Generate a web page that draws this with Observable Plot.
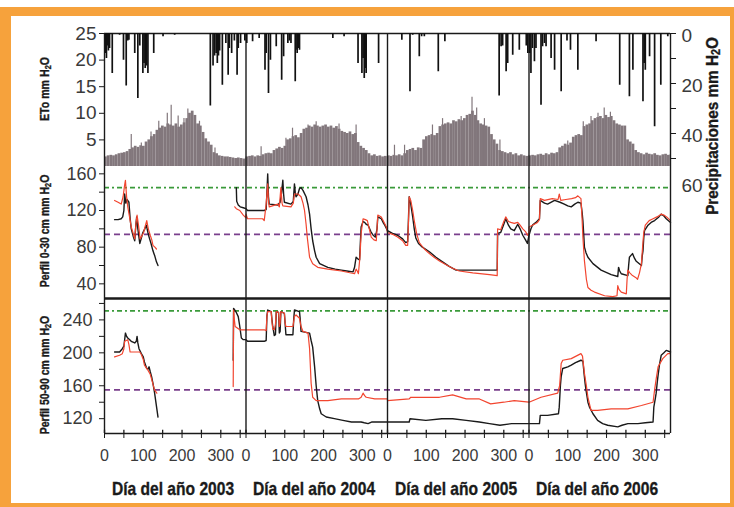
<!DOCTYPE html>
<html><head><meta charset="utf-8">
<script src="https://cdn.jsdelivr.net/npm/d3@7"></script>
<script src="https://cdn.jsdelivr.net/npm/@observablehq/plot@0.6"></script>
<style>
html,body{margin:0;padding:0;background:#fff;}
#wrap{position:relative;width:734px;height:507px;overflow:hidden;background:#fff;}
#frame{position:absolute;left:0;top:7px;width:734px;height:500px;box-sizing:border-box;border-style:solid;border-color:#f6a23c;border-width:9px 4px 4px 11px;}
#wrap svg{position:absolute;left:0;top:0;}
.lab{position:absolute;font-family:"Liberation Sans",Arial,sans-serif;font-weight:bold;color:#1a1a1a;white-space:nowrap;line-height:1;-webkit-text-stroke:0.35px #1a1a1a;}
.lab sub{font-size:70%;vertical-align:-0.25em;line-height:0;}
</style></head>
<body>
<div id="wrap"><div id="frame"></div></div>
<script>
// ---------------- DATA ----------------
const years = [2003, 2004, 2005, 2006];
const xTickDays = [0, 50, 100, 150, 200, 250, 300, 350];

// ETo weekly (7-day bins), mm
const eto2003 = [1.8,2.0,2.1,2.0,2.2,2.4,2.5,2.6,2.8,3.2,3.5,3.8,3.6,3.9,3.8,4.6,5.0,5.6,6.0,6.8,7.2,7.6,7.4,8.0,7.8,7.6,8.0,7.4,7.8,8.2,9.0,10.0,10.4,9.6,8.0,7.6,6.4,5.2,4.6,4.0,2.6,2.4,2.0,1.9,1.8,1.8,1.7,1.6,1.5,1.6,1.5,1.4,1.5];
const eto2004 = [1.8,1.9,2.0,1.8,2.0,1.9,2.2,2.4,2.5,2.4,3.0,3.3,3.6,3.4,3.8,5.0,5.2,5.6,5.8,5.4,6.2,7.0,7.2,7.6,7.4,7.8,7.6,7.4,7.6,7.8,7.4,7.6,7.2,7.5,7.0,6.6,6.4,6.2,6.5,6.0,6.2,4.5,3.8,3.4,3.0,2.4,2.0,2.2,1.9,2.0,1.8,1.9,1.8];
const eto2005 = [2.0,1.9,2.1,2.0,2.2,2.0,2.4,3.0,3.2,3.4,3.0,3.5,3.4,5.0,5.6,5.8,6.0,5.8,6.2,7.5,7.8,8.0,8.2,8.0,8.6,8.4,8.8,8.6,9.0,9.6,9.8,10.4,9.6,8.6,8.0,7.8,7.6,7.4,6.0,5.0,4.2,3.0,2.8,2.6,2.4,2.6,2.2,2.4,2.0,2.2,2.0,1.9,2.0];
const eto2006 = [2.0,2.1,2.0,2.2,2.3,2.1,2.4,2.2,2.5,2.4,2.6,3.5,3.8,4.2,4.0,4.4,5.5,5.8,6.0,5.8,7.5,7.8,8.0,8.6,9.0,9.2,9.4,9.0,9.6,9.2,9.4,8.6,8.0,7.8,7.6,7.6,5.0,4.6,4.2,3.0,2.6,2.4,2.2,2.5,2.3,2.2,2.4,2.1,2.0,2.2,2.3,2.1,2.2];
// ETo daily peaks [day, mm]
const etoPeak2003 = [[69,6],[95,4.4],[120,6.5],[140,8.5],[162,10],[172,11.5],[190,9.5],[205,9],[215,10.8],[245,8.5],[285,3.5]];
const etoPeak2004 = [[39,3.7],[103,5.3],[120,7.2],[160,7.8],[181,8.4],[240,8],[284,7.8]];
const etoPeak2005 = [[18,4],[44,4],[116,7.8],[142,9],[190,9.4],[218,13],[230,11],[250,9],[290,5]];
const etoPeak2006 = [[100,4.8],[140,8.4],[160,9.4],[178,10],[194,11],[210,10.2]];

// Precipitation [day, mm]
const rain2003 = [[3,8],[5,10],[8,5],[10,7],[13,6],[20,16],[39,0.7],[49,10.7],[56,21],[60,3],[63,2.7],[78,8],[86,26],[91,5],[99,16],[102,12],[105,14],[108,13],[112,16],[127,8],[151,1.3],[181,0.7],[273,29],[280,13],[284,9],[288,8],[291,12],[294,9],[297,7],[304,20.7],[313,4],[319,16.7],[322,6],[328,8],[335,3],[342,16.7],[345,6],[351,4],[362,3]];
const rain2004 = [[2,4],[17,3.3],[34,2],[49,14.7],[52,8],[58,24],[63,10.7],[78,5.3],[92,18.7],[97,9.3],[108,4],[112,3],[116,4],[127,19.3],[129,6.7],[132,8],[135,6],[138,6.7],[224,2],[253,1.3],[289,12],[299,16],[302,10],[305,18],[308,14],[310,16],[342,12]];
const rain2005 = [[37,2.7],[58,23.3],[65,0.7],[82,9.3],[88,1.3],[95,1.3],[131,15.3],[148,3.3],[288,25],[293,5.3],[297,5],[306,15.3],[310,12],[323,8.7],[340,6.7],[358,5],[362,8]];
const rain2006 = [[2,8],[5,16],[9,6],[14,11.3],[18,6],[31,28.7],[35,5.3],[40,4],[44,5.3],[57,10],[66,14.7],[83,23.3],[98,3],[107,6.7],[126,14.7],[173,3.3],[234,20.7],[259,25.3],[268,14.7],[294,27.3],[297,12],[300,14.7],[311,9.3],[324,37.3],[340,20.7],[358,1.3]];

// Perfil 0-30 cm: measured (black) and simulated (red) [day, mm]
const obs030_2003 = [[26,110],[35,110],[43,111],[47,113],[50,120],[52,138],[55,128],[58,132],[63,129],[66,112],[69,100],[74,92],[78,87],[81,105],[83,113],[86,100],[91,84],[95,90],[99,96],[104,100],[108,104],[112,96],[115,91],[120,84],[125,76],[130,70],[134,64],[138,60],null,[340,145],[341,130],[345,126],[350,124],[358,123],[365,122]];
const obs030_2004 = [[0,122],[4,120],[47,120],[52,121],[55,150],[56,160],[58,135],[60,127],[82,126],[88,129],[92,140],[95,153],[97,138],[99,129],[116,127],[122,130],[125,149],[127,140],[129,135],[134,138],[138,144],[142,145],[147,142],[155,135],[160,126],[164,116],[168,100],[172,87],[177,76],[181,69],[190,62],[211,58],[230,56],[246,55],[260,54],[276,53],[280,58],[284,69],[289,67],[293,66],[295,85],[297,102],[302,108],[306,107],[310,105],[315,104],[322,97],[328,93],[334,91],[338,100],[340,113],[345,112],[349,111],[355,106],[358,104],[365,98]];
const obs030_2005 = [[0,98],[13,95],[26,93],[39,89],[47,85],[52,86],[54,110],[56,135],[58,131],[60,127],[65,113],[69,100],[73,90],[80,84],[90,80],[108,75],[125,69],[142,64],[159,59],[177,55],[194,55],[220,55],[263,55],[283,55],[284,95],[292,96],[300,105],[305,111],[312,104],[318,100],[327,98],[336,105],[342,100],[349,93],[356,88],[361,84],[365,93]];
const obs030_2006 = [[0,93],[5,100],[9,104],[18,107],[27,111],[29,131],[40,128],[48,127],[66,131],[80,129],[91,127],[100,125],[109,124],[118,127],[126,129],[134,128],[137,118],[139,109],[141,95],[143,80],[147,74],[152,69],[165,62],[186,55],[212,50],[229,48],[231,58],[234,54],[238,51],[255,49],[257,60],[259,69],[263,71],[267,73],[272,68],[276,65],[290,60],[292,70],[294,76],[296,90],[298,98],[307,104],[315,107],[324,109],[335,113],[341,116],[348,114],[354,111],[365,107]];
const sim030_2003 = [[26,131],[35,129],[43,127],[48,135],[52,148],[54,153],[57,135],[60,124],[65,112],[69,102],[74,95],[78,89],[81,105],[84,115],[88,103],[92,89],[96,92],[101,96],[105,103],[109,109],[113,100],[118,93],[122,88],[125,82],[130,80],[134,78],null,[336,124],[340,122],[349,120],[358,115],[365,112]];
const sim030_2004 = [[0,116],[4,111],[43,111],[47,109],[52,127],[56,149],[58,130],[60,124],[82,127],[86,124],[90,145],[93,128],[95,125],[116,124],[122,128],[125,138],[134,138],[142,135],[147,128],[151,120],[155,105],[158,91],[164,69],[172,62],[185,58],[211,56],[246,54],[280,51],[284,56],[287,54],[290,51],[294,70],[297,95],[302,111],[308,110],[313,109],[318,100],[323,91],[330,88],[336,87],[338,100],[340,115],[349,113],[355,108],[362,102],[365,96]];
const sim030_2005 = [[0,96],[13,94],[26,91],[39,87],[47,82],[52,82],[54,105],[56,135],[60,131],[65,120],[69,109],[75,95],[82,85],[95,78],[108,73],[120,69],[134,65],[150,61],[168,57],[185,54],[220,52],[263,50],[283,49],[284,100],[292,99],[300,108],[305,113],[312,108],[318,107],[327,106],[336,107],[342,104],[349,100],[356,97],[361,93],[365,96]];
const sim030_2006 = [[0,102],[9,104],[22,107],[27,110],[29,133],[40,131],[60,133],[75,132],[78,138],[82,131],[95,132],[110,133],[120,134],[126,136],[134,133],[137,110],[139,91],[141,78],[143,65],[148,45],[152,36],[160,33],[169,31],[195,27],[216,26],[227,27],[229,38],[232,34],[238,31],[251,29],[253,45],[255,55],[260,52],[267,49],[275,47],[280,45],[285,52],[290,62],[293,80],[296,96],[300,104],[310,109],[320,111],[330,113],[341,116],[348,115],[355,113],[365,109]];

// Perfil 50-90 cm
const obs5090_2003 = [[26,201],[39,201],[46,205],[50,208],[54,224],[57,220],[60,218],[65,216],[69,214],[78,212],[82,214],[84,220],[86,212],[89,205],[95,199],[100,195],[103,189],[109,181],[112,180],[115,183],[118,177],[122,170],[125,163],[129,152],[132,142],[135,132],[138,122],null,[332,191],[333,254],[336,252],[340,249],[345,244],[349,232],[353,218],[358,216],[365,216]];
const obs5090_2004 = [[0,216],[4,214],[47,214],[52,215],[54,245],[56,252],[65,250],[67,240],[69,232],[73,221],[76,222],[78,250],[84,249],[86,224],[88,226],[90,250],[99,248],[101,235],[103,222],[121,222],[123,240],[125,252],[138,250],[140,240],[142,226],[164,224],[168,215],[172,207],[177,183],[181,160],[185,142],[190,132],[194,126],[207,122],[228,120],[250,118],[272,116],[297,116],[305,115],[315,114],[325,116],[332,116],[349,116],[365,116]];
const obs5090_2005 = [[0,116],[56,116],[58,120],[99,118],[140,120],[168,120],[203,118],[237,116],[263,114],[290,112],[320,114],[365,114]];
const obs5090_2006 = [[0,114],[27,114],[29,124],[48,124],[76,126],[78,134],[81,160],[83,171],[87,181],[100,183],[109,185],[120,188],[134,191],[139,190],[142,175],[145,162],[147,155],[152,140],[156,134],[165,126],[177,118],[190,114],[203,112],[229,110],[240,112],[255,114],[281,114],[300,115],[320,116],[322,134],[326,145],[328,151],[331,165],[333,173],[337,187],[341,197],[348,200],[354,203],[365,201]];
const sim5090_2003 = [[26,195],[39,197],[46,199],[50,205],[52,214],[60,216],[63,210],[66,201],[91,201],[95,198],[100,192],[103,185],[112,179],[118,174],[121,169],[125,162],[129,155],[135,151],null,[332,159],[333,252],[335,240],[337,232],[349,228],[365,228]];
const sim5090_2004 = [[0,228],[4,228],[47,228],[52,227],[54,245],[56,250],[65,250],[67,238],[69,229],[73,228],[76,235],[78,250],[84,249],[86,232],[88,236],[90,250],[99,248],[101,236],[103,232],[121,232],[125,244],[129,246],[138,242],[142,232],[147,226],[160,224],[164,205],[168,163],[172,146],[181,142],[211,142],[246,144],[290,144],[297,146],[302,151],[306,148],[310,146],[332,144],[365,144]];
const sim5090_2005 = [[0,142],[56,144],[60,146],[134,146],[168,149],[203,144],[237,144],[266,138],[300,140],[327,142],[365,140]];
const sim5090_2006 = [[0,140],[31,146],[74,151],[79,160],[83,187],[87,191],[109,193],[134,199],[138,196],[143,175],[148,160],[152,146],[160,130],[177,130],[212,132],[255,132],[290,136],[320,140],[324,155],[328,168],[333,183],[345,193],[358,199],[365,199]];

// Reference levels
const ref030 = {high: 145, low: 94};
const ref5090 = {high: 251, low: 155};

// ---------------- BUILD ----------------
const YL = 365;
const W = 734, H = 507, ML = 104, MR = 64;
const xDom = [0, years.length * YL];
const seps = years.slice(1).map((_, i) => (i + 1) * YL);

function weekly(arrs) {
  const out = [];
  arrs.forEach((a, i) => a.forEach((v, k) => out.push({x1: i*YL + 7*k, x2: i*YL + Math.min(7*k + 7, YL), v})));
  return out;
}
function pts(arrs) {
  const out = [];
  arrs.forEach((a, i) => a.forEach(p => out.push(p === null ? {t: NaN, v: NaN} : {t: i*YL + p[0], v: p[1]})));
  return out;
}
const etoBars = weekly([eto2003, eto2004, eto2005, eto2006]);
const etoPeaks = pts([etoPeak2003, etoPeak2004, etoPeak2005, etoPeak2006]);
const rain = pts([rain2003, rain2004, rain2005, rain2006]);
const o030 = pts([obs030_2003, obs030_2004, obs030_2005, obs030_2006]);
const s030 = pts([sim030_2003, sim030_2004, sim030_2005, sim030_2006]);
const o5090 = pts([obs5090_2003, obs5090_2004, obs5090_2005, obs5090_2006]);
const s5090 = pts([sim5090_2003, sim5090_2004, sim5090_2005, sim5090_2006]);
const xTicks = years.flatMap((_, i) => xTickDays.map(d => ({t: i*YL + d, d})));

const INK = "#1a1a1a", GREY = "#82777c", RED = "#f2452f", GREEN = "#3a9a3a", PURPLE = "#7a3f8c";
const baseStyle = {background: "transparent", fontFamily: "'Liberation Sans', Arial, sans-serif", color: INK, overflow: "visible"};
const tickFill = "#3a3a3a";

function mk(opts) {
  return Plot.plot(Object.assign({width: W, height: H, marginLeft: ML, marginRight: MR, style: baseStyle,
    x: {domain: xDom, axis: null}}, opts));
}

// Panel 1: ETo (left axis)
const p1 = mk({
  marginTop: 33, marginBottom: H - 166,
  y: {domain: [0, 25], axis: null},
  marks: [
    Plot.rect(etoBars, {x1: "x1", x2: "x2", y1: 0, y2: "v", fill: GREY, inset: 0}),
    Plot.ruleX(etoPeaks, {x: "t", y1: 0, y2: "v", stroke: GREY, strokeWidth: 1.2}),
    Plot.ruleX(seps, {y1: 0, y2: 25, stroke: INK, strokeWidth: 1.4}),
    Plot.ruleX([xDom[0], xDom[1]], {y1: 0, y2: 25, stroke: INK, strokeWidth: 1.4}),
    Plot.ruleY([25], {stroke: INK, strokeWidth: 1.6}),
    Plot.axisY({anchor: "left", ticks: [5, 10, 15, 20, 25], tickSize: 5, tickPadding: 3, fontSize: 19, label: null, fill: tickFill})
  ]
});

// Panel 1 overlay: precipitation (right axis, reversed)
const p1r = mk({
  marginTop: 33, marginBottom: H - 183,
  y: {domain: [0, 60], reverse: true, axis: null},
  marks: [
    Plot.ruleX(rain, {x: "t", y1: 0, y2: "v", stroke: "#111", strokeWidth: 1.7}),
    Plot.axisY({anchor: "right", ticks: [0, 10, 20, 30, 40, 50], tickSize: 5, tickFormat: () => "", label: null}),
    Plot.axisY({anchor: "right", ticks: [0, 20, 40, 60], tickSize: 0, tickPadding: 11, fontSize: 19, dy: 2, label: null, fill: tickFill})
  ]
});

// Panel 2: 0-30 cm
const p2 = mk({
  marginTop: 166, marginBottom: H - 298,
  y: {domain: [24, 168], axis: null},
  marks: [
    Plot.ruleY([ref030.high], {stroke: GREEN, strokeWidth: 1.6, strokeDasharray: "5,3,2,3"}),
    Plot.ruleY([ref030.low], {stroke: PURPLE, strokeWidth: 1.6, strokeDasharray: "6,4"}),
    Plot.line(o030, {x: "t", y: "v", stroke: INK, strokeWidth: 1.4}),
    Plot.line(s030, {x: "t", y: "v", stroke: RED, strokeWidth: 1.2}),
    Plot.ruleX(seps, {stroke: INK, strokeWidth: 1.4}),
    Plot.ruleX([xDom[0], xDom[1]], {stroke: INK, strokeWidth: 1.4}),
    Plot.axisY({anchor: "left", ticks: [40, 60, 80, 100, 120, 140, 160], tickFormat: d => d % 40 === 0 ? d : "", tickSize: 5, tickPadding: 3, fontSize: 18, label: null, fill: tickFill})
  ]
});

// Panel 3: 50-90 cm + x axis
const p3 = mk({
  marginTop: 298, marginBottom: H - 433,
  y: {domain: [102, 266], axis: null},
  marks: [
    Plot.ruleY([ref5090.high], {stroke: GREEN, strokeWidth: 1.6, strokeDasharray: "5,3,2,3"}),
    Plot.ruleY([ref5090.low], {stroke: PURPLE, strokeWidth: 1.6, strokeDasharray: "6,4"}),
    Plot.line(o5090, {x: "t", y: "v", stroke: INK, strokeWidth: 1.4}),
    Plot.line(s5090, {x: "t", y: "v", stroke: RED, strokeWidth: 1.2}),
    Plot.ruleX(seps, {stroke: INK, strokeWidth: 1.4}),
    Plot.ruleX([xDom[0], xDom[1]], {stroke: INK, strokeWidth: 1.4}),
    Plot.ruleY([266], {stroke: INK, strokeWidth: 2.6}),
    Plot.ruleY([102], {stroke: INK, strokeWidth: 1.4}),
    Plot.ruleX(xTicks, {x: "t", y1: 102, y2: 106, stroke: INK, strokeWidth: 1.3}),
    Plot.axisY({anchor: "left", ticks: [120, 140, 160, 180, 200, 220, 240, 260], tickFormat: d => d % 40 === 0 ? d : "", tickSize: 5, tickPadding: 7, fontSize: 18, label: null, fill: tickFill}),
    Plot.axisX({anchor: "bottom", ticks: xTicks.map(d => d.t), tickFormat: t => { const d = Math.round(t % YL); return d % 100 === 0 ? String(d) : ""; }, tickSize: 5, tickPadding: 11, fontSize: 16, label: null, fill: tickFill})
  ]
});

const wrap = document.getElementById("wrap");
[p1, p1r, p2, p3].forEach(p => wrap.appendChild(p));

function label(html, x, y, size, rot, sx) {
  const d = document.createElement("div");
  d.className = "lab";
  d.style.left = x + "px"; d.style.top = y + "px"; d.style.fontSize = size + "px";
  d.style.transform = `translate(-50%,-50%) ${rot ? "rotate(-90deg)" : ""} scaleX(${sx})`;
  d.innerHTML = html;
  wrap.appendChild(d);
}
label("ETo mm H<sub>2</sub>O", 45, 89, 12.5, true, 0.85);
label("Perfil 0-30 cm mm H<sub>2</sub>O", 45, 231, 12.5, true, 0.84);
label("Perfil 50-90 cm mm H<sub>2</sub>O", 45, 375, 12.5, true, 0.84);
label("Precipitaciones mm H<sub>2</sub>O", 712, 126, 17, true, 0.9);
const xs = p3.scale("x");
years.forEach((yr, i) => label(`Día del año ${yr}`, xs.apply(i*YL + YL/2) - 2, 488, 19, false, 0.82));
</script>
</body></html>
